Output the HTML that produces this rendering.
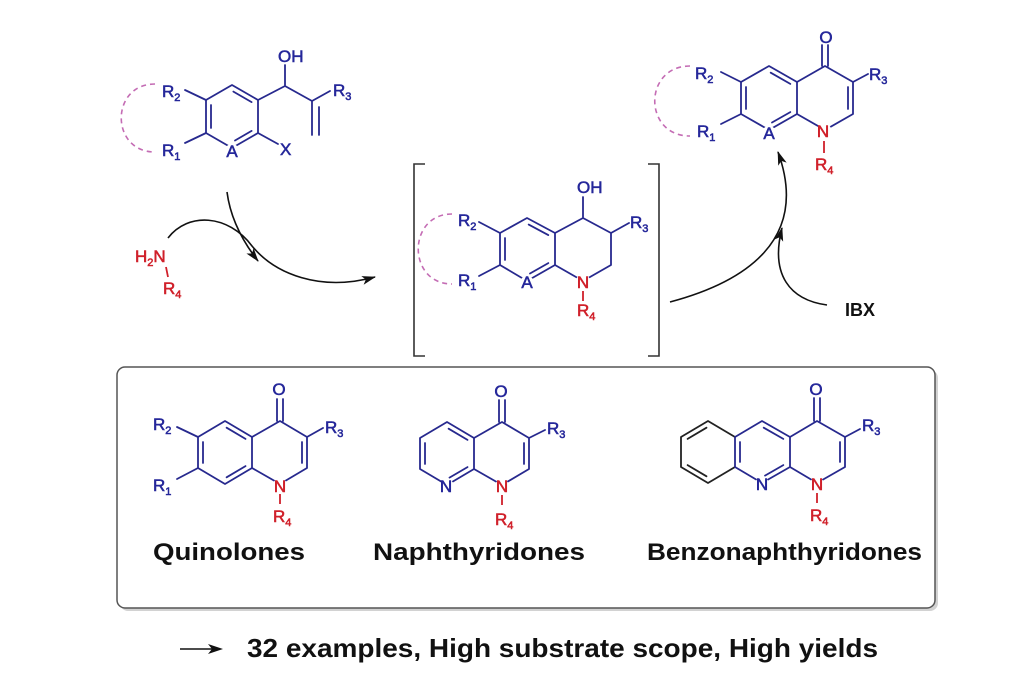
<!DOCTYPE html>
<html><head><meta charset="utf-8"><style>
html,body{margin:0;padding:0;background:#fff;}
svg{display:block}
text{font-family:"Liberation Sans",Arial,sans-serif;}
.b{fill:#25279a;stroke:#25279a;stroke-width:0.55;font-size:17px}
.r{fill:#d0202a;stroke:#d0202a;stroke-width:0.55;font-size:17px}
.k{fill:#111;font-weight:bold}
.bl{stroke:#27298e;stroke-width:1.8;fill:none;stroke-linejoin:round;stroke-linecap:round}
.rl{stroke:#d0202a;stroke-width:1.8;fill:none}
.kl{stroke:#222;stroke-width:1.8;fill:none;stroke-linejoin:round;stroke-linecap:round}
.ds{stroke:#c46cb4;stroke-width:1.6;fill:none;stroke-dasharray:5,4}
.ar{stroke:#111;stroke-width:1.6;fill:none}
</style></head><body>
<svg width="1024" height="686" viewBox="0 0 1024 686" xmlns="http://www.w3.org/2000/svg">
<defs>
<marker id="ah" markerWidth="14" markerHeight="10" refX="13" refY="5" orient="auto" markerUnits="userSpaceOnUse"><path d="M0,0.5 L14,5 L0,9.5 L3.5,5 z" fill="#111"/></marker>
</defs>
<rect width="1024" height="686" fill="#fff"/>

<!-- ===== Molecule 1 (starting material) ===== -->
<path class="ds" d="M155,84 C110,84 110,152 155,152"/>
<path class="bl" d="M232,85 L258,100 L258,133 L232,148 L206,133 L206,100 Z"/>
<path class="bl" d="M233.4,91.6 L251.6,102.1 M251.6,130.9 L235,140.5 M211,105 L211,128 M206,100 L185,90 M206,133 L185,143 M258,133 L278,144 M258,100 L285,86 L312,101 L330,91 M285,86 L285,65 M312,101 L312,135 M319,107 L319,135"/>
<circle cx="232" cy="151" r="7" fill="#fff"/>
<text class="b" x="278" y="62">OH</text>
<text class="b" x="162" y="97">R<tspan font-size="11" dy="4">2</tspan></text>
<text class="b" x="162" y="156">R<tspan font-size="11" dy="4">1</tspan></text>
<text class="b" x="232" y="157" text-anchor="middle">A</text>
<text class="b" x="280" y="155">X</text>
<text class="b" x="333" y="96">R<tspan font-size="11" dy="4">3</tspan></text>

<!-- ===== Molecule 2 (product, top right) ===== -->
<path class="ds" d="M690,66 C643,66 643,136 690,136"/>
<path class="bl" d="M769,66 L797,82 L797,114 L769,130 L741,114 L741,82 Z"/>
<path class="bl" d="M770.7,72.7 L790.3,83.9 M746,87 L746,109 M790.3,112.1 L772,122.5 M797,82 L825,66 L853,82 L853,114 L825,130 L797,114 M848,87 L848,109 M822,66 L822,45 M828,66 L828,45 M853,82 L868,74 M741,82 L721,72 M741,114 L721,124"/>
<path class="rl" d="M824,141 L824,153"/>
<circle cx="769" cy="133" r="7" fill="#fff"/>
<circle cx="824" cy="131" r="7.5" fill="#fff"/>
<text class="b" x="826" y="43" text-anchor="middle">O</text>
<text class="b" x="869" y="80">R<tspan font-size="11" dy="4">3</tspan></text>
<text class="b" x="695" y="79">R<tspan font-size="11" dy="4">2</tspan></text>
<text class="b" x="697" y="137">R<tspan font-size="11" dy="4">1</tspan></text>
<text class="b" x="769" y="139" text-anchor="middle">A</text>
<text class="r" x="823" y="137" text-anchor="middle">N</text>
<text class="r" x="815" y="170">R<tspan font-size="11" dy="4">4</tspan></text>

<!-- ===== Intermediate (bracketed) ===== -->
<path d="M425,164 H414 V356 H425 M648,164 H659 V356 H648" stroke="#333" stroke-width="1.6" fill="none"/>
<path class="ds" d="M452,214 C407,214 407,284 452,284"/>
<path class="bl" d="M527,218 L555,233 L555,265 L527,281 L500,265 L500,233 Z"/>
<path class="bl" d="M528.7,224.6 L548.3,235.1 M505,238 L505,260 M548.3,263.1 L530,273.5 M555,233 L583,218 L611,233 L611,265 L583,281 L555,265 M583,218 L583,197 M611,233 L629,223 M500,233 L479,222 M500,265 L479,276"/>
<path class="rl" d="M583,291 L583,301"/>
<circle cx="527" cy="283" r="7" fill="#fff"/>
<circle cx="583" cy="282" r="7.5" fill="#fff"/>
<text class="b" x="577" y="193">OH</text>
<text class="b" x="630" y="228">R<tspan font-size="11" dy="4">3</tspan></text>
<text class="b" x="458" y="226">R<tspan font-size="11" dy="4">2</tspan></text>
<text class="b" x="458" y="286">R<tspan font-size="11" dy="4">1</tspan></text>
<text class="b" x="527" y="288" text-anchor="middle">A</text>
<text class="r" x="583" y="288" text-anchor="middle">N</text>
<text class="r" x="577" y="316">R<tspan font-size="11" dy="4">4</tspan></text>

<!-- ===== Arrows ===== -->
<path class="ar" d="M227,192 C230,215 240,238 258,261" marker-end="url(#ah)"/>
<path class="ar" d="M168,238 C188,212 228,214 252,246 C275,274 320,292 375,277" marker-end="url(#ah)"/>
<text class="r" x="135" y="262">H<tspan font-size="11" dy="4">2</tspan><tspan dy="-4">N</tspan></text>
<path class="rl" d="M166,267 L168,277"/>
<text class="r" x="163" y="294">R<tspan font-size="11" dy="4">4</tspan></text>

<path class="ar" d="M670,302 C745,282 810,240 778,152" marker-end="url(#ah)"/>
<path class="ar" d="M827,305 C790,300 770,275 782,228" marker-end="url(#ah)"/>
<text class="k" x="845" y="316" font-size="18">IBX</text>

<!-- ===== Box ===== -->
<rect x="120" y="370" width="818" height="241" rx="8" fill="#d2d2d2"/>
<rect x="117" y="367" width="818" height="241" rx="8" fill="#fff" stroke="#555" stroke-width="1.5"/>

<!-- Quinolone -->
<path class="bl" d="M225,421 L252,437 L252,468 L225,484 L198,468 L198,437 Z"/>
<path class="bl" d="M226.6,427.7 L245.5,438.9 M203,442 L203,463 M245.5,466.1 L226.6,477.3 M252,437 L280,421 L307,437 L307,468 L280,484 L252,468 M302,442 L302,463 M277,421 L277,399 M283,421 L283,399 M307,437 L323,428 M198,437 L177,427 M198,468 L177,479"/>
<path class="rl" d="M280,494 L280,504"/>
<circle cx="280" cy="486" r="7.5" fill="#fff"/>
<text class="b" x="279" y="395" text-anchor="middle">O</text>
<text class="b" x="325" y="433">R<tspan font-size="11" dy="4">3</tspan></text>
<text class="b" x="153" y="430">R<tspan font-size="11" dy="4">2</tspan></text>
<text class="b" x="153" y="491">R<tspan font-size="11" dy="4">1</tspan></text>
<text class="r" x="280" y="492" text-anchor="middle">N</text>
<text class="r" x="273" y="522">R<tspan font-size="11" dy="4">4</tspan></text>
<text class="k" x="153" y="560" font-size="24" textLength="152" lengthAdjust="spacingAndGlyphs">Quinolones</text>

<!-- Naphthyridone -->
<path class="bl" d="M447,422 L474,438 L474,469 L447,485 L420,469 L420,438 Z"/>
<path class="bl" d="M448.6,428.7 L467.5,439.9 M425,443 L425,464 M467.5,467.1 L449.5,477.6 M474,438 L502,422 L529,438 L529,469 L502,485 L474,469 M524,443 L524,464 M499,422 L499,400 M505,422 L505,400 M529,438 L545,430"/>
<path class="rl" d="M502,495 L502,505"/>
<circle cx="447" cy="487" r="7.5" fill="#fff"/>
<circle cx="502" cy="487" r="7.5" fill="#fff"/>
<text class="b" x="501" y="397" text-anchor="middle">O</text>
<text class="b" x="547" y="434">R<tspan font-size="11" dy="4">3</tspan></text>
<text class="b" x="446" y="492" text-anchor="middle">N</text>
<text class="r" x="502" y="492" text-anchor="middle">N</text>
<text class="r" x="495" y="525">R<tspan font-size="11" dy="4">4</tspan></text>
<text class="k" x="373" y="560" font-size="24" textLength="212" lengthAdjust="spacingAndGlyphs">Naphthyridones</text>

<!-- Benzonaphthyridone -->
<path class="kl" d="M735,437 L708,421 L681,437 L681,467 L708,483 L735,467 M687.6,438.9 L706.5,427.7 M687.6,465.1 L706.5,476.3"/>
<path class="bl" d="M762,421 L790,437 L790,467 L762,483 L735,467 L735,437 Z"/>
<path class="bl" d="M763.7,427.7 L783.3,438.9 M783.3,465.1 L765,475.6 M740,442 L740,462 M790,437 L817,421 L845,437 L845,467 L817,483 L790,467 M840,442 L840,462 M814,421 L814,398 M820,421 L820,398 M845,437 L860,429"/>
<path class="rl" d="M817,493 L817,503"/>
<circle cx="762" cy="485" r="7.5" fill="#fff"/>
<circle cx="817" cy="485" r="7.5" fill="#fff"/>
<text class="b" x="816" y="395" text-anchor="middle">O</text>
<text class="b" x="862" y="431">R<tspan font-size="11" dy="4">3</tspan></text>
<text class="b" x="762" y="490" text-anchor="middle">N</text>
<text class="r" x="817" y="490" text-anchor="middle">N</text>
<text class="r" x="810" y="521">R<tspan font-size="11" dy="4">4</tspan></text>
<text class="k" x="647" y="560" font-size="24" textLength="275" lengthAdjust="spacingAndGlyphs">Benzonaphthyridones</text>

<!-- ===== Bottom line ===== -->
<path d="M180,649 L212,649" stroke="#111" stroke-width="1.6"/>
<polygon points="223,649 208,644 212,649 208,654" fill="#111"/>
<text class="k" x="247" y="657" font-size="26" textLength="631" lengthAdjust="spacingAndGlyphs">32 examples, High substrate scope, High yields</text>
</svg>
</body></html>
